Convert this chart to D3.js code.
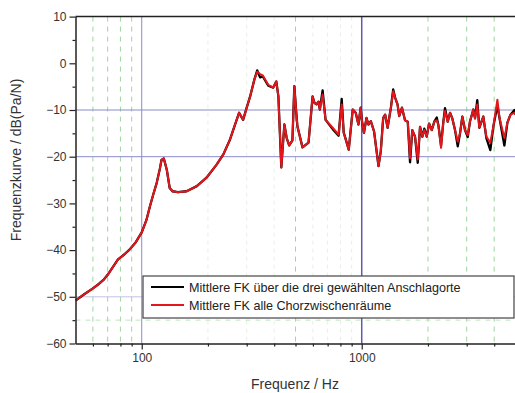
<!DOCTYPE html>
<html>
<head>
<meta charset="utf-8">
<script src="https://cdn.jsdelivr.net/npm/d3@7"></script>
<style>
  body { margin: 0; background: #fff; }
  text { font-family: "Liberation Sans", Arial, sans-serif; }
</style>
</head>
<body>
<div id="chart"></div>
<script>
// frequencies (Hz)
var freqs = [50,55,60,64,67,70,78,83,88,94,
  100,105,109,113,117,121,123,126,130,134,
  138,146,160,178,197,219,235,252,266,277,
  289,300,311,325,335,345,355,376,396,409,
  418,431,445,456,468,484,494,503,510,538,
  573,598,610,623,636,645,664,685,738,785,
  811,828,873,910,939,966,989,1003,1024,1051,
  1073,1100,1138,1192,1221,1252,1278,1311,1357,1390,
  1419,1455,1480,1524,
  1573,1619,1658,1698,1747,1797,1841,1886,1925,1975,
  2023,2081,2138,2193,2230,2294,2350,2391,2460,2520,
  2581,2655,2732,2798,2866,2948,3032,3107,3216,3273,
  3351,3424,3570,3686,3842,3967,4137,4225,4450,4594,4744,4946,5000];

// Mittlere FK alle Chorzwischenraeume (red)
var meanAll = [-50.8,-49.4,-48.2,-47.2,-46.4,-45.3,-42.0,-41.0,-39.9,-38.3,
  -36.2,-33.6,-30.6,-28.0,-25.6,-22.5,-20.7,-20.4,-22.8,-26.7,
  -27.4,-27.6,-27.4,-26.3,-24.5,-21.7,-19.5,-16.3,-13.0,-10.6,
  -12.1,-9.5,-7.1,-3.5,-1.8,-2.3,-2.6,-4.6,-5.2,-3.9,
  -7.1,-22.3,-13.1,-16.0,-17.6,-16.5,-4.9,-10.0,-13.5,-18.0,
  -17.0,-7.1,-8.5,-8.8,-8.2,-9.9,-6.7,-12.1,-13.8,-15.3,
  -8.8,-14.8,-18.5,-9.9,-10.6,-13.1,-9.5,-12.4,-14.9,-11.7,
  -13.1,-12.4,-14.6,-22.0,-18.8,-11.7,-11.0,-13.8,-9.5,-6.0,
  -7.4,-8.8,-11.3,-9.5,
  -12.2,-12.5,-20.3,-14.3,-15.7,-20.6,-13.6,-15.7,-14.3,-15.7,
  -12.9,-14.3,-12.5,-12.2,-13.2,-18.1,-12.5,-10.2,-12.5,-10.6,
  -11.8,-14.3,-16.8,-15.0,-11.4,-14.3,-15.4,-12.4,-9.9,-11.8,
  -8.8,-13.8,-11.4,-15.7,-17.0,-13.5,-7.8,-11.6,-16.0,-12.7,-11.0,-10.6,-11.0];

// Mittlere FK ueber die drei gewaehlten Anschlagorte (black)
var meanThree = [-50.8,-49.4,-48.2,-47.2,-46.4,-45.3,-42.0,-41.0,-39.9,-38.3,
  -36.2,-33.6,-30.6,-28.0,-25.6,-22.5,-20.7,-20.4,-22.8,-26.7,
  -27.4,-27.6,-27.4,-26.3,-24.5,-21.7,-19.5,-16.3,-13.0,-10.6,
  -12.1,-9.5,-7.1,-3.5,-1.5,-3.0,-2.8,-4.8,-5.2,-3.9,
  -7.1,-22.3,-13.1,-16.0,-17.6,-16.5,-4.9,-10.0,-13.5,-18.0,
  -17.0,-7.1,-8.5,-8.8,-8.2,-9.9,-5.8,-12.1,-14.1,-15.5,
  -7.6,-14.8,-18.5,-9.9,-10.6,-13.1,-9.5,-12.4,-14.9,-11.7,
  -13.1,-12.4,-14.6,-22.0,-18.8,-11.7,-11.0,-13.8,-9.5,-5.6,
  -7.4,-8.8,-11.3,-9.5,
  -12.2,-12.5,-21.2,-14.3,-15.7,-21.3,-13.6,-15.7,-14.0,-15.7,
  -12.9,-14.3,-12.5,-11.6,-13.2,-17.6,-12.5,-9.6,-12.5,-10.6,
  -11.8,-14.3,-17.8,-15.0,-11.4,-14.3,-15.8,-12.4,-9.9,-11.8,
  -7.9,-13.8,-11.4,-16.0,-18.6,-13.5,-9.0,-11.6,-17.6,-12.7,-11.0,-10.0,-11.0];

var yTicks = [10,0,-10,-20,-30,-40,-50,-60];
var yMinorTicks = [5,-5,-15,-25,-35,-45,-55];
var xTicks = [100,1000];
var xMinorTicks = [60,70,80,90,200,300,400,500,600,700,800,900,2000,3000,4000,5000];
var gridMajorX = [100,1000];
var gridMajorY = [-10,-20,-50];
var gridMinorX = [60,70,80,90,500,2000,3000,4000];
var gridFaintX = [200,300,400,600,700,800,900];
var gridMinorY = [-55];
var legendLabels = ["Mittlere FK über die drei gewählten Anschlagorte","Mittlere FK alle Chorzwischenräume"];
var legendColors = ["#000000","#e3161c"];

var width = 515, height = 393;
var plotLeft = 75.5, plotRight = 515.5, plotTop = 16.6, plotBottom = 343.5;

var svg = d3.select("#chart")
  .append("svg")
  .attr("width", width)
  .attr("height", height);

var x = d3.scaleLog().domain([50,5000]).range([plotLeft,plotRight]);
var y = d3.scaleLinear().domain([-60,10]).range([plotBottom,plotTop]);

svg.append("clipPath").attr("id","plotClip")
  .append("rect")
  .attr("x", plotLeft).attr("y", plotTop)
  .attr("width", plotRight-plotLeft).attr("height", plotBottom-plotTop);

// grid
var grid = svg.append("g").attr("clip-path","url(#plotClip)");

grid.selectAll(".faintx").data(gridFaintX).enter()
  .append("line")
  .attr("x1", function(d){ return x(d); }).attr("x2", function(d){ return x(d); })
  .attr("y1", plotTop).attr("y2", plotBottom)
  .attr("stroke", "#e6efe6")
  .attr("stroke-width", 1)
  .attr("stroke-dasharray", "4,4");

grid.selectAll(".minorx").data(gridMinorX).enter()
  .append("line")
  .attr("x1", function(d){ return x(d); }).attr("x2", function(d){ return x(d); })
  .attr("y1", plotTop).attr("y2", plotBottom)
  .attr("stroke", "#9ed69e")
  .attr("stroke-width", 1)
  .attr("stroke-dasharray", "5,5");

grid.selectAll(".minory").data(gridMinorY).enter()
  .append("line")
  .attr("x1", plotLeft).attr("x2", plotRight)
  .attr("y1", function(d){ return y(d); }).attr("y2", function(d){ return y(d); })
  .attr("stroke", "#bfe3bf")
  .attr("stroke-width", 1)
  .attr("stroke-dasharray", "5,5");

grid.selectAll(".majory").data(gridMajorY).enter()
  .append("line")
  .attr("x1", plotLeft).attr("x2", plotRight)
  .attr("y1", function(d){ return y(d); }).attr("y2", function(d){ return y(d); })
  .attr("stroke", function(d){ return d == -50 ? "#c2c2e4" : "#8a8acc"; })
  .attr("stroke-width", 1);

grid.selectAll(".majorx").data(gridMajorX).enter()
  .append("line")
  .attr("x1", function(d){ return x(d); }).attr("x2", function(d){ return x(d); })
  .attr("y1", plotTop).attr("y2", plotBottom)
  .attr("stroke", function(d){ return d == 1000 ? "#5c5cb0" : "#8a8acc"; })
  .attr("stroke-width", function(d){ return d == 1000 ? 1.5 : 1; });

// curves
var line = d3.line()
  .x(function(d){ return x(d[0]); })
  .y(function(d){ return y(d[1]); });

var curves = svg.append("g").attr("clip-path","url(#plotClip)");

curves.append("path")
  .datum(d3.zip(freqs, meanThree))
  .attr("d", line)
  .attr("fill", "none")
  .attr("stroke", legendColors[0])
  .attr("stroke-width", 2.3)
  .attr("stroke-linejoin", "round");

curves.append("path")
  .datum(d3.zip(freqs, meanAll))
  .attr("d", line)
  .attr("fill", "none")
  .attr("stroke", legendColors[1])
  .attr("stroke-width", 2)
  .attr("stroke-linejoin", "round");

// axes
svg.append("g")
  .attr("transform", "translate(" + plotLeft + ",0)")
  .call(d3.axisLeft(y).tickValues(yTicks).tickSize(6).tickSizeOuter(0).tickPadding(3));
svg.append("g")
  .attr("transform", "translate(" + plotLeft + ",0)")
  .call(d3.axisLeft(y).tickValues(yMinorTicks).tickSize(3).tickSizeOuter(0).tickFormat(""))
  .select(".domain").remove();

svg.append("g")
  .attr("transform", "translate(0," + plotBottom + ")")
  .call(d3.axisBottom(x).tickValues(xTicks).tickSize(6).tickSizeOuter(0).tickPadding(4).tickFormat(d3.format("d")));
svg.append("g")
  .attr("transform", "translate(0," + plotBottom + ")")
  .call(d3.axisBottom(x).tickValues(xMinorTicks).tickSize(3).tickSizeOuter(0).tickFormat(""))
  .select(".domain").remove();

svg.selectAll(".domain").attr("stroke", "#222").attr("stroke-width", 1.5);
svg.selectAll(".tick line").attr("stroke", "#222").attr("stroke-width", 1.2);
svg.selectAll(".tick text")
  .attr("font-family", "Liberation Sans, Arial, sans-serif")
  .attr("font-size", "12px")
  .attr("fill", "#333");

// top frame
svg.append("line")
  .attr("x1", plotLeft).attr("x2", plotRight)
  .attr("y1", plotTop).attr("y2", plotTop)
  .attr("stroke", "#222")
  .attr("stroke-width", 1.5);

// axis titles
svg.append("text")
  .attr("x", 295).attr("y", 389)
  .attr("text-anchor", "middle")
  .attr("font-size", "14px")
  .attr("fill", "#333")
  .text("Frequenz / Hz");

svg.append("text")
  .attr("transform", "translate(21,160) rotate(-90)")
  .attr("text-anchor", "middle")
  .attr("font-size", "14px")
  .attr("fill", "#333")
  .text("Frequenzkurve / dB(Pa/N)");

// legend
var legend = svg.append("g");
legend.append("rect")
  .attr("x", 143).attr("y", 276)
  .attr("width", 371).attr("height", 42)
  .attr("fill", "#fff")
  .attr("stroke", "#444")
  .attr("stroke-width", 1.2);

var items = legend.selectAll(".item").data(legendLabels).enter()
  .append("g")
  .attr("transform", function(d,i){ return "translate(0," + (287 + i*18) + ")"; });

items.append("line")
  .attr("x1", 151).attr("x2", 184)
  .attr("y1", 0).attr("y2", 0)
  .attr("stroke", function(d,i){ return legendColors[i]; })
  .attr("stroke-width", 2);

items.append("text")
  .attr("x", 189).attr("y", 4.5)
  .attr("font-size", "12.6px")
  .attr("fill", "#222")
  .text(function(d){ return d; });
</script>
</body>
</html>
